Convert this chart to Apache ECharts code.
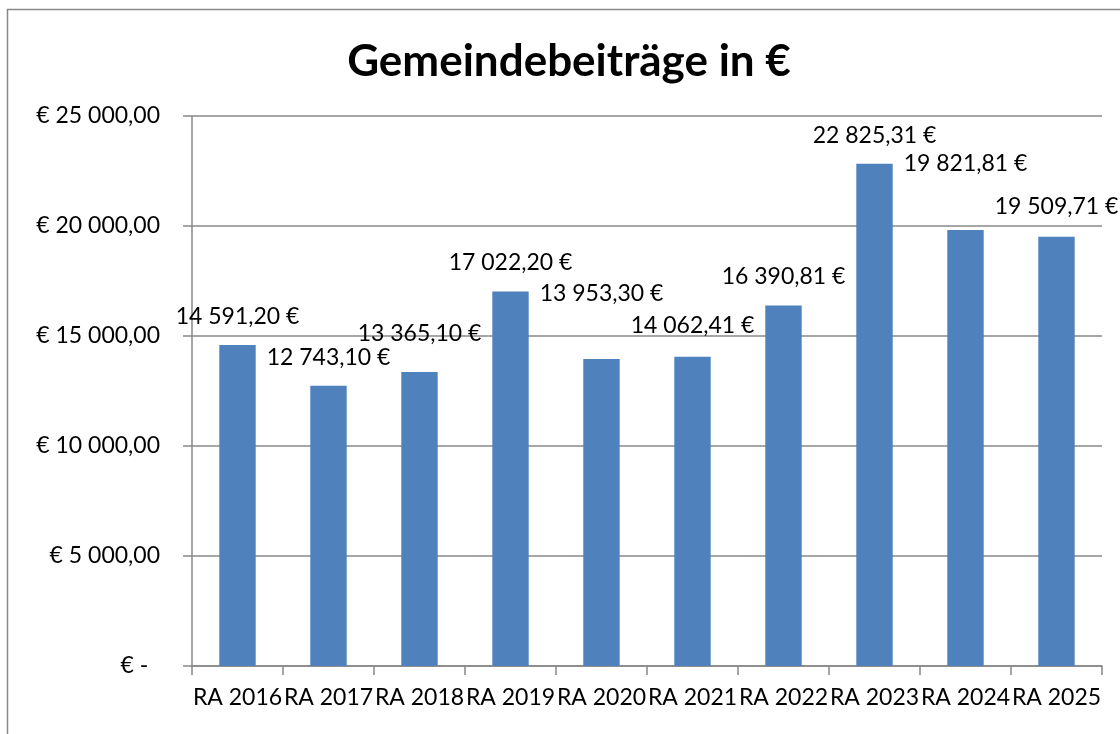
<!DOCTYPE html>
<html>
<head>
<meta charset="utf-8">
<script src="https://cdn.jsdelivr.net/npm/echarts@6/dist/echarts.min.js"></script>
<style>
html, body { margin: 0; padding: 0; background: #fff; }
#chart { width: 1120px; height: 734px; }
</style>
</head>
<body>
<div id="chart"></div>
<script>
var years = ['RA 2016', 'RA 2017', 'RA 2018', 'RA 2019', 'RA 2020', 'RA 2021', 'RA 2022', 'RA 2023', 'RA 2024', 'RA 2025']
var beitraege = [14591.20, 12743.10, 13365.10, 17022.20, 13953.30, 14062.41, 16390.81, 22825.31, 19821.81, 19509.71]

// extra lift of the labels (Excel had them dragged around a bit)
var labelLift = [12, 12, 22, 12, 49, 15, 12, 12, 50, 14]

function euro(v) {
    var parts = v.toFixed(2).split('.')
    var int = parts[0].replace(/\B(?=(\d{3})+(?!\d))/g, ' ')
    return int + ',' + parts[1]
}

var fontFam = 'Lato, "Noto Sans", sans-serif'

var myChart = echarts.init(document.getElementById('chart'))
var option = {
    backgroundColor: '#ffffff',
    animation: false,
    title: {
        text: 'Gemeindebeiträge in €',
        left: 564,
        textAlign: 'center',
        top: 35,
        textStyle: {
            fontFamily: fontFam,
            fontSize: 44,
            fontWeight: 'bold',
            color: '#000'
        }
    },
    graphic: [{
        type: 'rect',
        shape: { x: 7.5, y: 9.5, width: 1200, height: 800 },
        style: { fill: null, stroke: '#888888', lineWidth: 1.5 },
        silent: true
    }],
    grid: {
        left: 192,
        right: 18,
        top: 116,
        bottom: 68
    },
    xAxis: {
        type: 'category',
        data: years,
        axisLine: { lineStyle: { color: '#888888', width: 1.5 } },
        axisTick: { show: true, length: 9, lineStyle: { color: '#888888', width: 1.5 } },
        axisLabel: {
            interval: 0,
            margin: 20,
            color: '#000',
            fontFamily: fontFam,
            fontSize: 23
        }
    },
    yAxis: {
        type: 'value',
        min: 0,
        max: 25000,
        interval: 5000,
        axisLine: { show: true, lineStyle: { color: '#888888', width: 1.5 } },
        axisTick: { show: true, length: 9, lineStyle: { color: '#888888', width: 1.5 } },
        splitLine: { lineStyle: { color: '#888888', width: 1.5 } },
        axisLabel: {
            margin: 32,
            color: '#000',
            fontFamily: fontFam,
            fontSize: 23,
            formatter: function (v) {
                if (v === 0) return '€ -  '
                return '€ ' + euro(v)
            }
        }
    },
    series: [{
        type: 'bar',
        barWidth: '40%',
        itemStyle: { color: '#4F81BD' },
        data: beitraege.map(function (v, i) {
            return {
                value: v,
                label: { distance: 5 + labelLift[i] }
            }
        }),
        label: {
            show: true,
            position: 'top',
            color: '#000',
            fontFamily: fontFam,
            fontSize: 23,
            formatter: function (p) { return euro(p.value) + ' €' }
        }
    }]
}
myChart.setOption(option)
</script>
</body>
</html>
